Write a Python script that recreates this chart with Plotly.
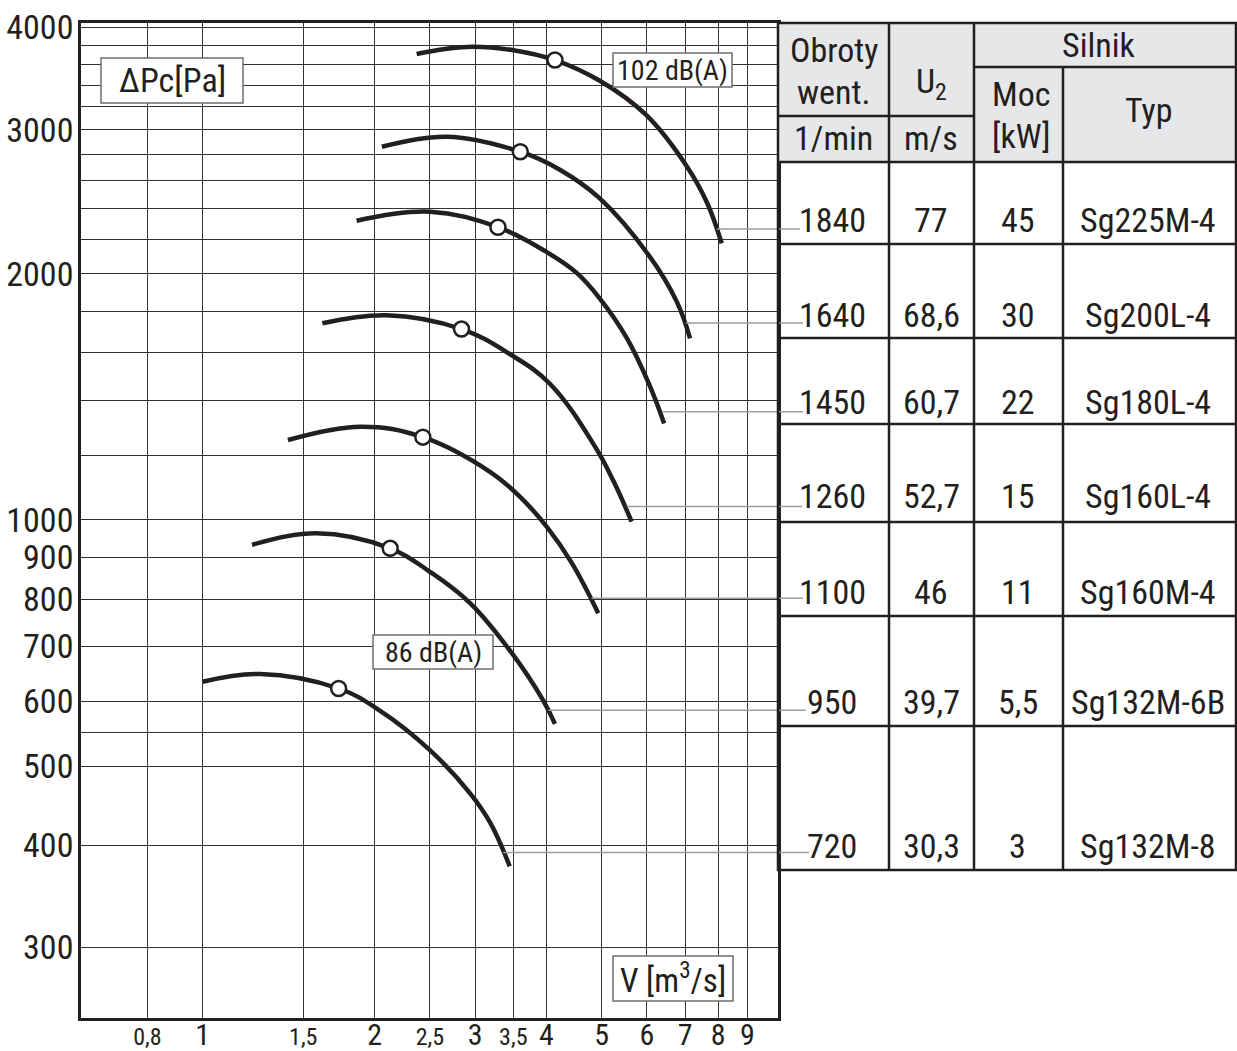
import numpy as np
import plotly.graph_objects as go

# ---------------------------------------------------------------------------
# Fan characteristic: total pressure ΔPc [Pa] against air volume V [m3/s]
# for seven impeller speeds, plus the motor table on the right.
# ---------------------------------------------------------------------------
speeds = [1840, 1640, 1450, 1260, 1100, 950, 720]
u2 = ["77", "68,6", "60,7", "52,7", "46", "39,7", "30,3"]
motor_power = ["45", "30", "22", "15", "11", "5,5", "3"]
motor_type = ["Sg225M-4", "Sg200L-4", "Sg180L-4", "Sg160L-4",
              "Sg160M-4", "Sg132M-6B", "Sg132M-8"]

# curve points (V, ΔPc) for every speed
v_1840 = [2.37, 2.66, 2.97, 3.48, 4.14, 4.97, 5.98, 7.04, 7.65, 8.11]
p_1840 = [3712, 3764, 3789, 3754, 3649, 3440, 3126, 2708, 2440, 2178]
v_1640 = [2.06, 2.68, 3.60, 4.23, 4.95, 6.04, 6.77, 7.14]
p_1640 = [2859, 2941, 2819, 2678, 2475, 2108, 1847, 1667]
v_1450 = [1.86, 2.50, 3.29, 4.00, 4.52, 4.97, 5.53, 6.05, 6.43]
p_1450 = [2321, 2381, 2279, 2126, 2004, 1862, 1669, 1466, 1312]
v_1260 = [1.62, 2.10, 2.84, 3.45, 4.06, 4.87, 5.25, 5.64]
p_1260 = [1739, 1779, 1711, 1595, 1466, 1228, 1113, 995]
v_1100 = [1.41, 1.89, 2.43, 3.19, 3.60, 4.01, 4.43, 4.93]
p_1100 = [1252, 1300, 1262, 1144, 1066, 980, 886, 769]
v_950 = [1.22, 1.58, 2.13, 2.50, 2.94, 3.48, 3.95, 4.14]
p_950 = [932, 963, 923, 864, 791, 687, 601, 563]
v_720 = [1.00, 1.26, 1.73, 2.04, 2.50, 2.94, 3.19, 3.45]
p_720 = [634, 648, 622, 585, 523, 463, 426, 377]

curve_v = [v_1840, v_1640, v_1450, v_1260, v_1100, v_950, v_720]
curve_p = [p_1840, p_1640, p_1450, p_1260, p_1100, p_950, p_720]

# operating points marked with open circles
duty_v = [4.14, 3.60, 3.29, 2.84, 2.43, 2.13, 1.73]
duty_p = [3649, 2819, 2279, 1711, 1262, 923, 622]

# where the leader from each curve towards its table row starts
leader_v = [7.95, 7.02, 6.37, 5.53, 4.80, 4.03, 3.36]
leader_p = [2268, 1741, 1356, 1038, 802, 585, 392]

x_ticks = [0.8, 1, 1.5, 2, 2.5, 3, 3.5, 4, 5, 6, 7, 8, 9]
x_tick_text = ["0,8", "1", "1,5", "2", "2,5", "3", "3,5", "4", "5", "6", "7", "8", "9"]
y_ticks = [300, 400, 500, 600, 700, 800, 900, 1000, 2000, 3000, 4000]
y_minor_grid = [550, 1200, 1400, 1600, 1800, 2200, 2400, 2600, 2800,
                3200, 3400, 3600, 3800]

# ---------------------------------------------------------------------------
# layout geometry (pixels on a 1237 x 1051 page)
# ---------------------------------------------------------------------------
W, H = 1237, 1051
PL, PR, PT, PB = 81, 778, 23, 1018
X_RANGE = [np.log10(0.612), np.log10(10.18)]
Y_RANGE = [np.log10(246), np.log10(4050)]

FONT = "Liberation Sans Narrow, Arial Narrow, Roboto Condensed, DejaVu Sans Condensed, sans-serif"
INK = "#231f20"
GRID = "#333333"


def px(x):
    return (x - PL) / (PR - PL)


def py(y):
    return (PB - y) / (PB - PT)


def vx(v):
    return (np.log10(v) - X_RANGE[0]) / (X_RANGE[1] - X_RANGE[0])


def vy(v):
    return (np.log10(v) - Y_RANGE[0]) / (Y_RANGE[1] - Y_RANGE[0])


fig = go.Figure()

for v, p, n in zip(curve_v, curve_p, speeds):
    fig.add_trace(go.Scatter(
        x=v, y=p, mode="lines", name=str(n),
        line=dict(color=INK, width=4.5, shape="spline", smoothing=1.1),
        hoverinfo="skip",
    ))

fig.add_trace(go.Scatter(
    x=duty_v, y=duty_p, mode="markers",
    marker=dict(symbol="circle", size=15, color="white",
                line=dict(color=INK, width=2.5)),
    hoverinfo="skip", cliponaxis=False,
))

shapes = []
annotations = []


def rect(x0, y0, x1, y1, fill=None, color=INK, width=2.5):
    shapes.append(dict(
        type="rect", xref="paper", yref="paper",
        x0=px(x0), x1=px(x1), y0=py(y1), y1=py(y0),
        fillcolor=fill if fill else "rgba(0,0,0,0)",
        line=dict(color=color, width=width), layer="above",
    ))


def hline(x0, x1, y, color=INK, width=2.5):
    shapes.append(dict(
        type="line", xref="paper", yref="paper",
        x0=px(x0), x1=px(x1), y0=py(y), y1=py(y),
        line=dict(color=color, width=width), layer="above",
    ))


def vline(x, y0, y1, color=INK, width=2.5):
    shapes.append(dict(
        type="line", xref="paper", yref="paper",
        x0=px(x), x1=px(x), y0=py(y0), y1=py(y1),
        line=dict(color=color, width=width), layer="above",
    ))


def label(x, y, text, size=34):
    annotations.append(dict(
        xref="paper", yref="paper", x=px(x), y=py(y), text=text,
        showarrow=False, xanchor="center", yanchor="middle",
        font=dict(family=FONT, size=size, color=INK),
    ))


# boxed labels inside the chart
rect(101, 58, 243, 103, fill="white", color="#6d6e70", width=1.5)
label(172, 80, "ΔPc[Pa]", 34)
rect(613, 53, 732, 87, fill="white", color="#6d6e70", width=1.5)
label(672, 70, "102 dB(A)", 28)
rect(373, 635, 493, 669, fill="white", color="#6d6e70", width=1.5)
label(433, 652, "86 dB(A)", 28)
rect(613, 956, 733, 1001, fill="white", color="#6d6e70", width=1.5)
label(673, 978, "V [m<sup>3</sup>/s]", 33)

# leaders from curve ends to the table rows
leader_end_px = [800, 803, 803, 802, 803, 806, 809]
for v, p, xe in zip(leader_v, leader_p, leader_end_px):
    shapes.append(dict(
        type="line", xref="paper", yref="paper",
        x0=vx(v), x1=px(xe), y0=vy(p), y1=vy(p),
        line=dict(color="#9d9d9d", width=1.5), layer="above",
    ))

# motor table
TX = [778, 889, 974, 1063, 1236]
T_TOP, T_SIL, T_MID, T_HEAD = 23, 67, 116, 162
ROWS = [244, 338, 424, 522, 616, 726, 870]
rect(TX[0], T_TOP, TX[4], T_HEAD, fill="#e6e7e9", color="rgba(0,0,0,0)", width=0)
rect(TX[0], T_TOP, TX[4], ROWS[-1])
hline(TX[2], TX[4], T_SIL)
hline(TX[0], TX[2], T_MID)
hline(TX[0], TX[4], T_HEAD)
for r in ROWS[:-1]:
    hline(TX[0], TX[4], r)
vline(TX[1], T_TOP, ROWS[-1])
vline(TX[2], T_TOP, ROWS[-1])
vline(TX[3], T_SIL, ROWS[-1])

label(834, 50, "Obroty")
label(834, 92, "went.")
label(833, 138, "1/min")
label(931, 84, "U<sub>2</sub>")
label(931, 138, "m/s")
label(1099, 45, "Silnik")
label(1021, 94, "Moc")
label(1021, 136, "[kW]")
label(1148, 110, "Typ")

row_text_y = [220, 315, 402, 496, 592, 702, 846]
col_x = [832, 931, 1018, 1148]
for i, yy in enumerate(row_text_y):
    label(col_x[0], yy, str(speeds[i]))
    label(col_x[1], yy, u2[i])
    label(col_x[2], yy, motor_power[i])
    label(col_x[3], yy, motor_type[i])

x_tick_labels = [t if "," not in t else f'<span style="font-size:24px">{t}</span>'
                 for t in x_tick_text]

fig.update_layout(
    width=W, height=H,
    margin=dict(l=PL, r=W - PR, t=PT, b=H - PB, pad=0),
    paper_bgcolor="white", plot_bgcolor="white",
    showlegend=False,
    shapes=shapes, annotations=annotations,
    font=dict(family=FONT, color=INK),
    xaxis=dict(
        type="log", range=X_RANGE, tickmode="array",
        tickvals=x_ticks, ticktext=x_tick_labels,
        tickfont=dict(family=FONT, size=30, color=INK),
        showgrid=True, gridcolor=GRID, gridwidth=1.4,
        showline=True, linecolor=INK, linewidth=2.5, mirror=True,
        ticks="", zeroline=False, automargin=False, ticklabelstandoff=-12,
    ),
    yaxis=dict(
        type="log", range=Y_RANGE, tickmode="array",
        tickvals=y_ticks, ticktext=[str(v) for v in y_ticks],
        tickfont=dict(family=FONT, size=34, color=INK),
        showgrid=True, gridcolor=GRID, gridwidth=1.4,
        minor=dict(tickmode="array", tickvals=y_minor_grid, ticks="",
                   showgrid=True, gridcolor=GRID, gridwidth=1.4),
        showline=True, linecolor=INK, linewidth=2.5, mirror=True,
        ticks="", zeroline=False, automargin=False, ticklabelstandoff=-2,
    ),
)

fig.write_html("out.html")
